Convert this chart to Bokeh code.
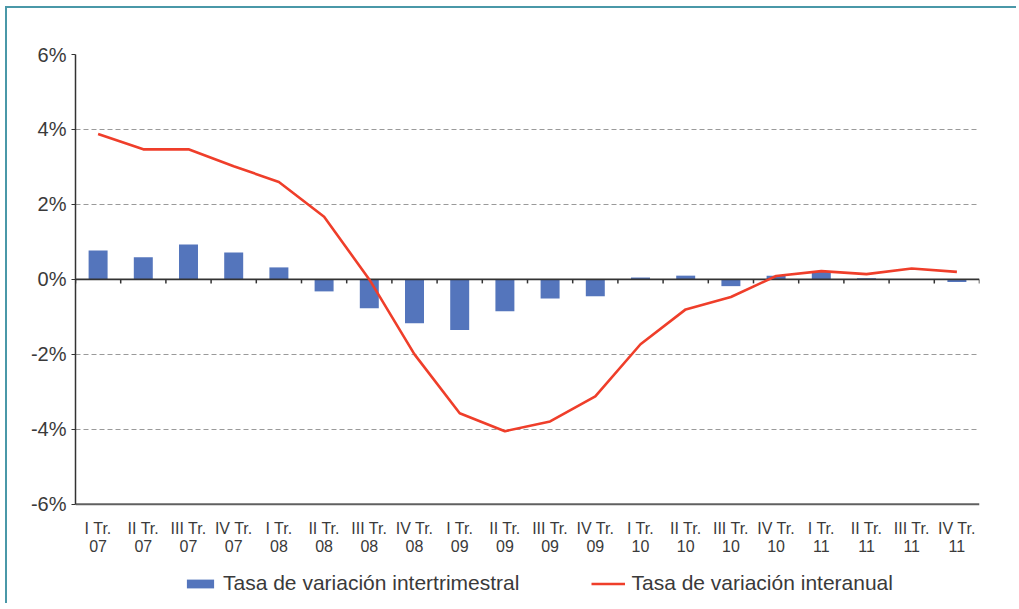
from bokeh.plotting import figure
from bokeh.models import Range1d, FixedTicker, Legend, LegendItem, ColumnDataSource
from bokeh.core.properties import value
from bokeh.embed import file_html
from bokeh.resources import INLINE

# ---- data ----
quarters = ["I Tr.", "II Tr.", "III Tr.", "IV Tr."] * 5
years = ["07"] * 4 + ["08"] * 4 + ["09"] * 4 + ["10"] * 4 + ["11"] * 4
intertrimestral = [0.77, 0.59, 0.93, 0.72, 0.32, -0.32, -0.77, -1.17, -1.35, -0.85,
                   -0.51, -0.45, 0.05, 0.10, -0.18, 0.10, 0.20, 0.03, 0.0, -0.07]
interanual = [3.88, 3.47, 3.47, 3.02, 2.60, 1.67, 0.0, -2.0, -3.57, -4.05,
              -3.79, -3.12, -1.73, -0.80, -0.47, 0.09, 0.22, 0.14, 0.29, 0.20]
y_ticks = [-6, -4, -2, 0, 2, 4, 6]
y_tick_labels = ["-6%", "-4%", "-2%", "0%", "2%", "4%", "6%"]
series_names = ["Tasa de variación intertrimestral", "Tasa de variación interanual"]

FONT = "Liberation Sans"
TEXT = "#3a3a3a"
BLUE = "#5475BC"
RED = "#EF3E2A"

n = len(quarters)
xs = list(range(n))

# frame extends below the value axis to hold category labels and legend
FRAME_H = 545
Y_START = -8.54
px_per_unit = FRAME_H / (y_ticks[-1] - Y_START)
quarter_y = y_ticks[0] - 24 / px_per_unit
year_y = y_ticks[0] - 42 / px_per_unit

src = ColumnDataSource(dict(x=xs, bar=intertrimestral, line=interanual,
                            quarter=quarters, year=years,
                            qy=[quarter_y] * n, yy=[year_y] * n))

p = figure(frame_width=904, frame_height=FRAME_H, output_backend="svg",
           toolbar_location=None,
           x_range=Range1d(-0.5, n - 0.5), y_range=Range1d(Y_START, y_ticks[-1]),
           min_border_left=68, min_border_right=37, min_border_top=46,
           min_border_bottom=4)
p.styles = {"margin-left": "5px", "margin-top": "6px",
            "border-left": "2px solid #4A98A8", "border-top": "2px solid #4A98A8"}
p.outline_line_color = None
p.background_fill_color = "white"
p.border_fill_color = "white"

bars = p.vbar(x="x", top="bar", bottom=0, width=0.42, source=src,
              fill_color=BLUE, line_color=None)

# bottom category axis line at the lowest value tick
p.segment(x0=[-0.5], x1=[n - 0.5], y0=[y_ticks[0]], y1=[y_ticks[0]],
          line_color="#606060", line_width=2)

# zero axis line with ticks between categories
bounds = [i - 0.5 for i in range(n + 1)]
tick_len = 4 / px_per_unit
p.segment(x0=[-0.5], x1=[n - 0.5], y0=[0], y1=[0], line_color="#333333", line_width=1.8)
p.segment(x0=bounds, x1=bounds, y0=[0] * len(bounds), y1=[-tick_len] * len(bounds),
          line_color="#333333", line_width=1.5)

ln = p.line(x="x", y="line", source=src, line_color=RED, line_width=2.6)

# category labels (two lines)
p.text(x="x", y="qy", text="quarter", source=src, text_font=value(FONT),
       text_font_size="16px", text_color=TEXT, text_align="center",
       text_baseline="alphabetic")
p.text(x="x", y="yy", text="year", source=src, text_font=value(FONT),
       text_font_size="16px", text_color=TEXT, text_align="center",
       text_baseline="alphabetic")

# y axis
p.yaxis.bounds = (y_ticks[0], y_ticks[-1])
p.yaxis.ticker = FixedTicker(ticks=y_ticks)
p.yaxis.major_label_overrides = {t: l for t, l in zip(y_ticks, y_tick_labels)}
p.yaxis.axis_line_color = "#333333"
p.yaxis.axis_line_width = 1.5
p.yaxis.major_tick_line_color = "#333333"
p.yaxis.major_tick_in = 0
p.yaxis.major_tick_out = 4
p.yaxis.minor_tick_line_color = None
p.yaxis.major_label_standoff = 5
p.yaxis.major_label_text_font = FONT
p.yaxis.major_label_text_font_size = "20px"
p.yaxis.major_label_text_color = TEXT

p.xaxis.visible = False
p.xgrid.grid_line_color = None
p.ygrid.ticker = FixedTicker(ticks=[t for t in y_ticks if t not in (0, y_ticks[0])])
p.ygrid.grid_line_color = "#9a9a9a"
p.ygrid.grid_line_dash = "5 3"
p.ygrid.grid_line_width = 1

legend = Legend(items=[LegendItem(label=series_names[0], renderers=[bars]),
                       LegendItem(label=series_names[1], renderers=[ln])],
                orientation="horizontal", location=(108, 4),
                glyph_width=34, glyph_height=11, label_standoff=6, spacing=72,
                padding=0, margin=0, border_line_color=None,
                background_fill_alpha=0,
                label_text_font=FONT, label_text_font_size="21px",
                label_text_color=TEXT)
p.add_layout(legend, "center")

open("out.html", "w").write(file_html(p, INLINE))
